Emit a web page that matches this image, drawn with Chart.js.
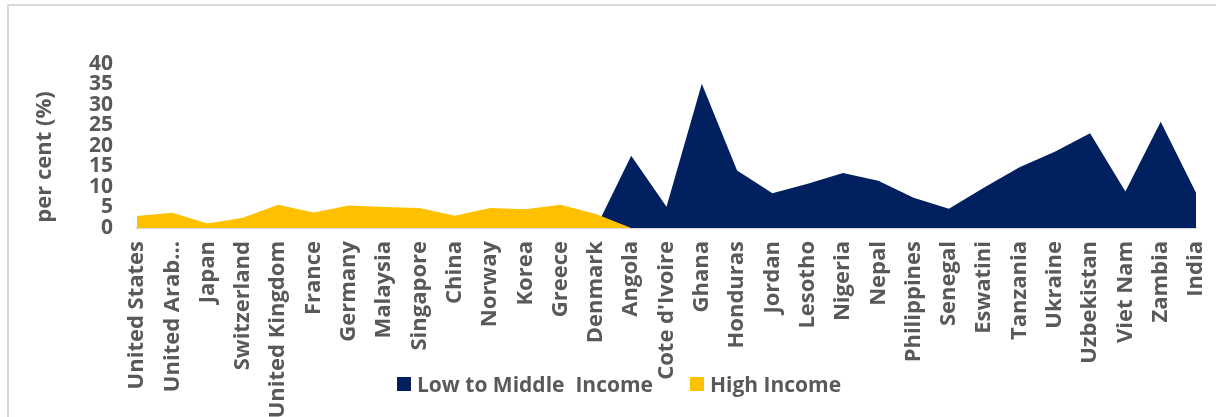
<!DOCTYPE html>
<html>
<head>
<meta charset="utf-8">
<script src="https://cdn.jsdelivr.net/npm/chart.js@4/dist/chart.umd.min.js"></script>
<style>
    html, body { margin: 0; padding: 0; background: #ffffff; overflow: hidden; }
    #wrap { position: relative; width: 1216px; height: 417px; overflow: hidden; }
    #frame { position: absolute; left: 7px; top: 4px; width: 1230px; height: 430px; border: 2px solid #d9d9d9; box-sizing: border-box; }
    #legend { position: absolute; left: 397px; top: 370px; display: flex; align-items: center;
              font-family: "Open Sans", sans-serif; font-weight: bold; font-size: 21px; color: #595959; white-space: pre; }
    #legend .box { width: 14px; height: 14px; margin-right: 6px; }
</style>
</head>
<body>
<div id="wrap">
    <div id="frame"></div>
    <canvas id="chart" width="1216" height="417"></canvas>
    <div id="legend">
        <span class="box" style="background:#002060"></span><span>Low to Middle  Income</span>
        <span class="box" style="background:#ffc000; margin-left:37px"></span><span>High Income</span>
    </div>
</div>
<script>
// kategorije (zemlje)
const countries = [
    'United States', 'United Arab…', 'Japan', 'Switzerland', 'United Kingdom', 'France', 'Germany',
    'Malaysia', 'Singapore', 'China', 'Norway', 'Korea', 'Greece', 'Denmark',
    'Angola', "Cote d'Ivoire", 'Ghana', 'Honduras', 'Jordan', 'Lesotho', 'Nigeria', 'Nepal',
    'Philippines', 'Senegal', 'Eswatini', 'Tanzania', 'Ukraine', 'Uzbekistan', 'Viet Nam', 'Zambia', 'India'
];

// High Income serija
const highIncome = [2.9, 3.7, 1.1, 2.5, 5.7, 3.8, 5.5, 5.1, 4.9, 3.0, 4.9, 4.6, 5.7, 3.4,
    0, null, null, null, null, null, null, null, null, null, null, null, null, null, null, null, null];

// Low to Middle Income serija
const lowMiddleIncome = [null, null, null, null, null, null, null, null, null, null, null, null, null, 0,
    17.6, 5.2, 35.2, 14.0, 8.5, 10.8, 13.4, 11.5, 7.4, 4.7, 9.9, 14.8, 18.6, 23.1, 8.9, 25.9, 8.6];

const yTicks = [0, 5, 10, 15, 20, 25, 30, 35, 40];
const yTitle = 'per cent (%)';

const textColor = '#595959';
const fontFamily = '"Open Sans", sans-serif';

// naslov y osi, malo niže od sredine osi kao u originalu
const yTitlePlugin = {
    id: 'yTitle',
    afterDraw(chart) {
        const ctx = chart.ctx;
        ctx.save();
        ctx.translate(45, 157);
        ctx.rotate(-Math.PI / 2);
        ctx.font = 'bold 22px ' + fontFamily;
        ctx.fillStyle = textColor;
        ctx.textAlign = 'center';
        ctx.textBaseline = 'middle';
        ctx.fillText(yTitle, 0, 0);
        ctx.restore();
    }
};

new Chart(document.getElementById('chart'), {
    type: 'line',
    data: {
        labels: countries,
        datasets: [
            {
                label: 'High Income',
                data: highIncome,
                backgroundColor: '#ffc000',
                borderWidth: 0,
                pointRadius: 0,
                fill: 'origin',
                tension: 0
            },
            {
                label: 'Low to Middle  Income',
                data: lowMiddleIncome,
                backgroundColor: '#002060',
                borderWidth: 0,
                pointRadius: 0,
                fill: 'origin',
                tension: 0
            }
        ]
    },
    options: {
        responsive: false,
        animation: false,
        layout: { padding: { top: 64, right: 20, left: 0, bottom: 0 } },
        plugins: {
            legend: { display: false },
            tooltip: { enabled: false }
        },
        scales: {
            x: {
                offset: false,
                grid: { display: false, drawTicks: false },
                border: { display: true, color: '#d9d9d9', width: 2 },
                ticks: {
                    color: textColor, font: { family: fontFamily, weight: 'bold', size: 22 }, autoSkip: false,
                    minRotation: 90, maxRotation: 90, padding: 13
                },
                afterFit: (scale) => {
                    scale.height = 189;
                    scale.paddingLeft = 0;
                    scale.paddingRight = 0;
                }
            },
            y: {
                min: 0,
                max: 40,
                grid: { display: false, drawTicks: false },
                border: { display: false },
                ticks: {
                    stepSize: 5, autoSkip: false, color: textColor,
                    font: { family: fontFamily, weight: 'bold', size: 21 }, padding: 24,
                    callback: (v) => yTicks.includes(v) ? String(v) : ''
                },
                afterFit: (scale) => { scale.width = 137; }
            }
        }
    },
    plugins: [yTitlePlugin]
});
</script>
</body>
</html>
